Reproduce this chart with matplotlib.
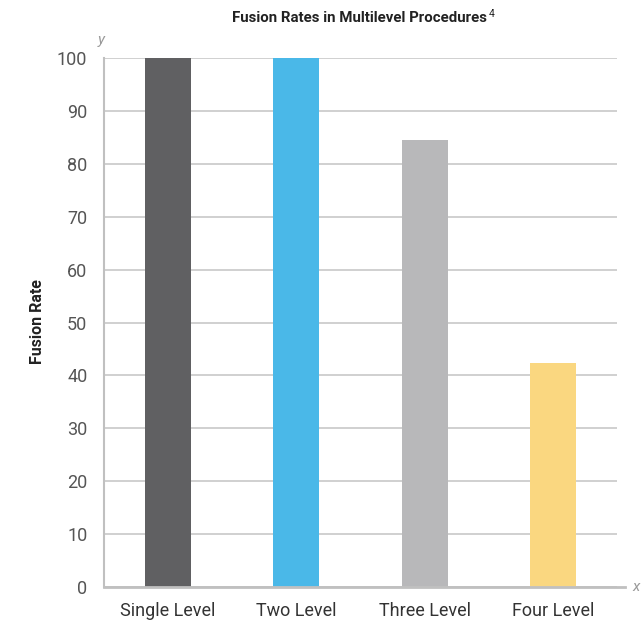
import matplotlib.pyplot as plt

categories = ['Single Level', 'Two Level', 'Three Level', 'Four Level']
fusion_rates = [100, 100, 84.5, 42.3]
bar_colors = ['#606062', '#4ab8e8', '#b8b8ba', '#fad780']
y_ticks = [0, 10, 20, 30, 40, 50, 60, 70, 80, 90, 100]

plt.rcParams['font.family'] = ['Roboto', 'DejaVu Sans']

fig = plt.figure(figsize=(6.43, 6.23), dpi=100)
ax = fig.add_axes([104 / 643, 1 - 587 / 623, (617 - 104) / 643, (587 - 58) / 623])

x_pos = range(len(categories))
ax.bar(x_pos, fusion_rates, width=0.36, color=bar_colors, zorder=3)

ax.set_xlim(-0.5, 3.5)
ax.set_ylim(0, 100)
ax.set_yticks(y_ticks)
ax.set_xticks(list(x_pos))
ax.set_xticklabels(categories)
ax.tick_params(axis='y', length=0, pad=12, labelsize=13, labelcolor='#555555')
ax.tick_params(axis='x', length=0, pad=11, labelsize=13, labelcolor='#333333')
ax.grid(axis='y', color='#c8c8c8', linewidth=1.2, zorder=0)

for side in ['top', 'right']:
    ax.spines[side].set_visible(False)
ax.spines['left'].set_color('#c0c0c0')
ax.spines['left'].set_linewidth(1.5)
ax.spines['bottom'].set_visible(False)
# bottom axis line runs a little past the last gridline
ax.plot([-0.5, 3.56], [0, 0], color='#c0c0c0', linewidth=2, clip_on=False, zorder=4)

ax.text(3.62, 0, 'x', style='italic', color='#999999', fontsize=11, ha='left', va='center')
ax.text(-0.52, 102, 'y', style='italic', color='#999999', fontsize=11, ha='center', va='bottom')

fig.text(38 / 643, 1 - 322 / 623, 'Fusion Rate', rotation=90, fontweight='bold',
         fontsize=11.5, color='#222222', ha='center', va='center')
fig.text(487 / 643, 1 - 18 / 623, 'Fusion Rates in Multilevel Procedures',
         fontweight='bold', fontsize=10.8, color='#222222', ha='right', va='center')
fig.text(489 / 643, 1 - 14 / 623, '4', fontsize=7.5, color='#222222', ha='left', va='center')

fig.savefig('out.png', dpi=100)
